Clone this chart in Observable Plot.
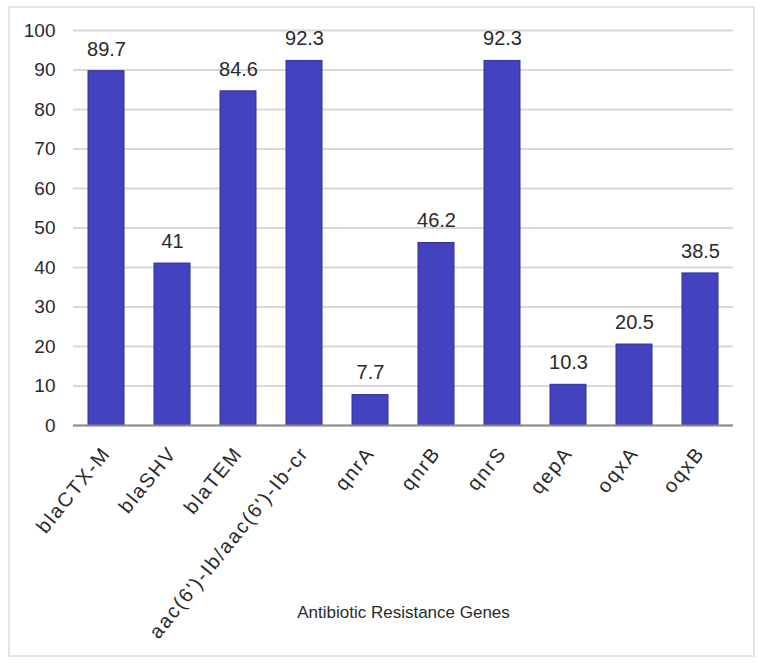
<!DOCTYPE html>
<html>
<head>
<meta charset="utf-8">
<script src="https://cdn.jsdelivr.net/npm/d3@7"></script>
<script src="https://cdn.jsdelivr.net/npm/@observablehq/plot@0.6"></script>
<style>
  body { margin: 0; background: #fff; }
  #wrap { position: relative; width: 762px; height: 664px; }
  #frame { position: absolute; left: 8px; top: 6px; width: 743px; height: 647px; border: 2px solid #e4e4e4; pointer-events: none; }
</style>
</head>
<body>
<div id="wrap"><div id="frame"></div></div>
<script>
const genes = ["blaCTX-M", "blaSHV", "blaTEM", "aac(6')-Ib/aac(6')-Ib-cr", "qnrA", "qnrB", "qnrS", "qepA", "oqxA", "oqxB"];
const percents = [89.7, 41, 84.6, 92.3, 7.7, 46.2, 92.3, 10.3, 20.5, 38.5];
const yTicks = [0, 10, 20, 30, 40, 50, 60, 70, 80, 90, 100];
const xTitle = "Antibiotic Resistance Genes";

const data = genes.map((g, i) => ({gene: g, value: percents[i]}));

const chart = Plot.plot({
  width: 762,
  height: 664,
  marginLeft: 73,
  marginRight: 29,
  marginTop: 30,
  marginBottom: 239,
  style: {fontFamily: "'Liberation Sans', Arial, sans-serif", fontSize: "18px", color: "#2a2a2a", background: "transparent"},
  x: {domain: genes, paddingInner: 0.45, paddingOuter: 0.225, label: null},
  y: {domain: [0, 100], label: null},
  marks: [
    Plot.gridY(yTicks, {stroke: "#d8d8d8", strokeOpacity: 1, strokeWidth: 2}),
    Plot.barY(data, {x: "gene", y: "value", fill: "#4343bf", stroke: "#30309a", strokeWidth: 1}),
    Plot.text(data, {x: "gene", y: "value", text: d => String(d.value), dy: -22, fontSize: 20, fill: "#2a2a2a"}),
    Plot.ruleY([0], {stroke: "#8a8a8a", strokeWidth: 2}),
    Plot.axisX({tickSize: 0, tickRotate: -51, tickPadding: 24, fontSize: 20, label: null}),
    Plot.axisY({ticks: yTicks, tickSize: 0, tickPadding: 18, fontSize: 19, label: null}),
    Plot.text([xTitle], {frameAnchor: "bottom", dy: 192, text: d => d, fontSize: 17, fill: "#2a2a2a"})
  ]
});
chart.querySelectorAll('g[aria-label="x-axis tick label"] text').forEach(t => t.setAttribute("letter-spacing", "1.8"));
document.getElementById("wrap").prepend(chart);
</script>
</body>
</html>
